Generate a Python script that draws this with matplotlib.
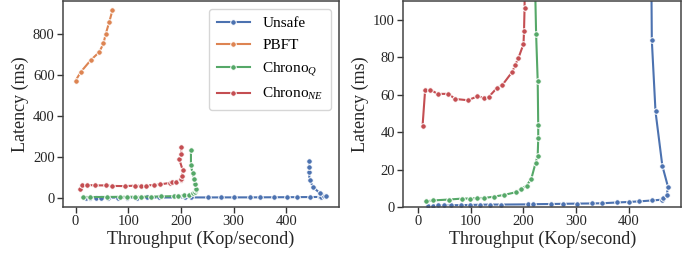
import matplotlib
matplotlib.use('Agg')
import matplotlib.pyplot as plt

plt.rcParams['font.family'] = ['Liberation Serif', 'DejaVu Serif']
plt.rcParams['mathtext.fontset'] = 'custom'
plt.rcParams['mathtext.rm'] = 'Liberation Serif'
plt.rcParams['mathtext.it'] = 'Liberation Serif:italic'

labels = ['Unsafe', 'PBFT', 'Chrono$_Q$', 'Chrono$_{NE}$']
colors = ['#4C72B0', '#DD8452', '#55A868', '#C44E52']

unsafe_x = [19, 28, 38, 48, 62, 81, 98, 117, 136, 158, 208, 219, 252, 276, 301, 331, 350,
            377, 401, 420, 445, 463, 466, 472, 475, 464, 451, 444, 443, 443, 443]
unsafe_y = [0.6, 0.7, 0.8, 0.9, 0.95, 1.0, 1.1, 1.2, 1.3, 1.3, 1.4, 1.5, 1.6, 1.7, 1.8, 1.9, 2.0,
            2.4, 2.7, 3.0, 3.5, 3.9, 4.6, 6.2, 10.5, 22, 51, 89, 127, 152, 180]

pbft_x = [0, 10, 29, 45, 53, 57, 64, 70]
pbft_y = [572, 615, 673, 712, 754, 798, 859, 916]

chronoq_x = [15, 28, 59, 84, 98, 112, 125, 143, 162, 186, 195, 206, 215, 223, 227, 228, 228,
             227, 224, 222, 219, 219]
chronoq_y = [3.0, 3.5, 4.0, 4.5, 4.5, 4.8, 4.8, 5.5, 6.4, 7.9, 9.5, 11.4, 15.2, 23.6, 27.3, 36.6,
             43.8, 67.3, 92.3, 119, 160, 235]

chronone_x = [8, 13, 22, 37, 57, 70, 94, 112, 125, 134, 149, 160, 179, 184, 190, 200, 201, 202,
              203, 197, 201, 200]
chronone_y = [43, 62.7, 62.7, 60.4, 60.4, 57.7, 57, 59, 58.4, 58.8, 63.4, 65.2, 72.3, 75.7,
              79.3, 87, 94, 106, 138, 187, 215, 247]

series = [(unsafe_x, unsafe_y), (pbft_x, pbft_y), (chronoq_x, chronoq_y), (chronone_x, chronone_y)]

fig = plt.figure(figsize=(6.93, 2.59), dpi=100)
ax1 = fig.add_axes([0.0909, 0.2008, 0.3983, 0.7954])
ax2 = fig.add_axes([0.582, 0.2008, 0.4007, 0.7954])

for ax in (ax1, ax2):
    for (xs, ys), lab, c in zip(series, labels, colors):
        ax.plot(xs, ys, color=c, lw=1.5, marker='o', ms=4, mec='white', mew=0.7,
                label=lab)
    for s in ax.spines.values():
        s.set_color('#444444')
        s.set_linewidth(1.1)
    ax.tick_params(direction='out', length=4, width=1, color='#333333',
                   labelsize=10.5, labelcolor='#262626', pad=2)
    ax.set_xlabel('Throughput (Kop/second)', fontsize=13, color='#262626', labelpad=2)
    ax.set_ylabel('Latency (ms)', fontsize=13, color='#262626', labelpad=3)
    ax.set_xticks([0, 100, 200, 300, 400])

ax1.set_xlim(-23.8, 500)
ax1.set_yticks([0, 200, 400, 600, 800])
ax1.legend(loc='upper right', fontsize=11, frameon=True, edgecolor='#cccccc',
           handlelength=2.2, labelspacing=0.55, borderpad=0.5)

ax2.set_xlim(-28.5, 499.5)
ax2.set_ylim(0, 110)
ax2.set_yticks([0, 20, 40, 60, 80, 100])

fig.savefig('out.png', dpi=100)
